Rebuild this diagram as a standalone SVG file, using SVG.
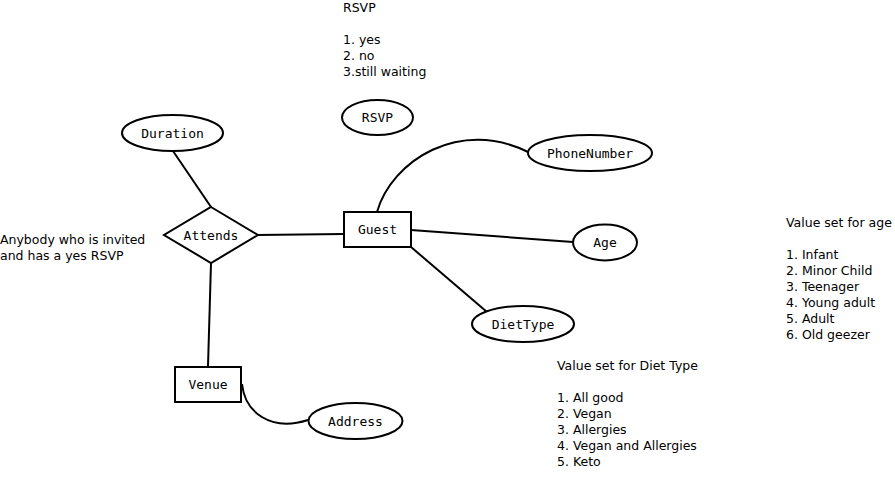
<svg xmlns="http://www.w3.org/2000/svg" width="895" height="500" viewBox="0 0 895 500">
<style>
.shape{fill:#fff;stroke:#000;stroke-width:2}
.edge{fill:none;stroke:#000;stroke-width:2}
.lbl{font-family:"DejaVu Sans Mono",monospace;font-size:13px;text-anchor:middle;fill:#000}
.note{font-family:"DejaVu Sans",sans-serif;font-size:12.5px;fill:#000}
</style>
<rect width="895" height="500" fill="#fff"/>
<g id="connectors">
<line class="edge" x1="173" y1="151" x2="211" y2="207"/>
<line class="edge" x1="257" y1="235" x2="344" y2="234"/>
<line class="edge" x1="211" y1="263" x2="208" y2="366"/>
<path class="edge" d="M377,212 C392,160 460,118 528,152"/>
<line class="edge" x1="411" y1="230" x2="573" y2="242"/>
<line class="edge" x1="411" y1="247" x2="487" y2="312"/>
<path class="edge" d="M242,384 C245,412 270,432 308,420"/>
</g>
<g id="duration"><ellipse class="shape" cx="172.5" cy="133" rx="50.5" ry="18"/><text class="lbl" x="172.5" y="137.5">Duration</text></g>
<g id="rsvp"><ellipse class="shape" cx="377.5" cy="117.5" rx="35.5" ry="17.5"/><text class="lbl" x="377.5" y="122">RSVP</text></g>
<g id="attends"><polygon class="shape" points="211,207 258,235 211,263 164,235"/><text class="lbl" x="211" y="239.5">Attends</text></g>
<g id="guest"><rect class="shape" x="344" y="212" width="67" height="35"/><text class="lbl" x="377.5" y="234">Guest</text></g>
<g id="phonenumber"><ellipse class="shape" cx="590" cy="153" rx="62" ry="18"/><text class="lbl" x="590" y="157.5">PhoneNumber</text></g>
<g id="age"><ellipse class="shape" cx="605" cy="242.5" rx="32" ry="18"/><text class="lbl" x="605" y="247">Age</text></g>
<g id="diettype"><ellipse class="shape" cx="523" cy="324" rx="51" ry="18"/><text class="lbl" x="523" y="328.5">DietType</text></g>
<g id="venue"><rect class="shape" x="175" y="367" width="66" height="35"/><text class="lbl" x="208" y="389">Venue</text></g>
<g id="address"><ellipse class="shape" cx="355.5" cy="421" rx="47" ry="18"/><text class="lbl" x="355.5" y="425.5">Address</text></g>
<g id="notes">
<text class="note" x="343" y="11.5">RSVP</text>
<text class="note" x="343" y="43.5">1. yes</text>
<text class="note" x="343" y="59.5">2. no</text>
<text class="note" x="343" y="75.5">3.still waiting</text>
<text class="note" x="0" y="243.5">Anybody who is invited</text>
<text class="note" x="0" y="259.5">and has a yes RSVP</text>
<text class="note" x="786" y="226.5">Value set for age</text>
<text class="note" x="786" y="258.5">1. Infant</text>
<text class="note" x="786" y="274.5">2. Minor Child</text>
<text class="note" x="786" y="290.5">3. Teenager</text>
<text class="note" x="786" y="306.5">4. Young adult</text>
<text class="note" x="786" y="322.5">5. Adult</text>
<text class="note" x="786" y="338.5">6. Old geezer</text>
<text class="note" x="557" y="369.5">Value set for Diet Type</text>
<text class="note" x="557" y="401.5">1. All good</text>
<text class="note" x="557" y="417.5">2. Vegan</text>
<text class="note" x="557" y="433.5">3. Allergies</text>
<text class="note" x="557" y="449.5">4. Vegan and Allergies</text>
<text class="note" x="557" y="465.5">5. Keto</text>
</g>
</svg>
